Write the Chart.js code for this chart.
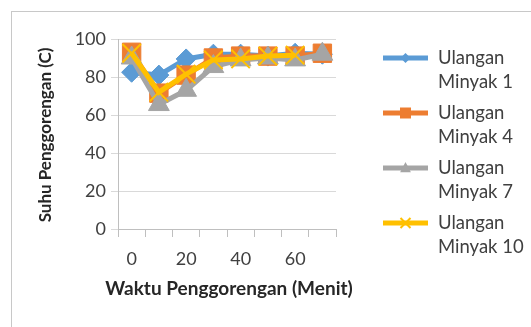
<!DOCTYPE html>
<html>
<head>
<meta charset="utf-8">
<script src="https://cdn.jsdelivr.net/npm/chart.js@4/dist/chart.umd.min.js"></script>
<style>
  html, body { margin: 0; padding: 0; background: #fff; }
  #wrap { width: 531px; height: 327px; position: relative; }
</style>
</head>
<body>
<div id="wrap"><canvas id="c" width="531" height="327"></canvas></div>
<script>
// Frying time (minutes) and oil temperature per repetition
const waktu = ['0', '10', '20', '30', '40', '50', '60', '70'];
const minyak1 = [82.5, 81, 89.5, 92, 92, 91, 92.5, 92];
const minyak4 = [93, 71.5, 81, 90, 91, 91, 91, 92.5];
const minyak7 = [90, 65.5, 73, 85.5, 89, 90, 89, 92];
const minyak10 = [92.5, 72, 81.5, 89, 89.5, 91, 91.5, null];
const seriesNames = [['Ulangan', 'Minyak 1'], ['Ulangan', 'Minyak 4'], ['Ulangan', 'Minyak 7'], ['Ulangan', 'Minyak 10']];
const yTicks = [0, 20, 40, 60, 80, 100];
const xLabelEvery = 20;
const xTitle = 'Waktu Penggorengan (Menit)';
const yTitle = 'Suhu Penggorengan (C)';

const FONT = 'Lato, "Liberation Sans", sans-serif';
const colors = ['#5B9BD5', '#ED7D31', '#A5A5A5', '#FFC000'];
const styles = ['rectRot', 'rect', 'triangle', 'crossRot'];
const radii = [10, 13, 12, 13];

function makeSet(i, data) {
  return {
    label: seriesNames[i].join(' '),
    data: data,
    borderColor: colors[i],
    backgroundColor: colors[i],
    borderWidth: 5,
    pointStyle: styles[i],
    pointRadius: radii[i],
    pointBackgroundColor: colors[i],
    pointBorderColor: colors[i],
    pointBorderWidth: i === 3 ? 2 : 1,
    tension: 0,
    order: 4 - i,
    spanGaps: false
  };
}

// Outer frame of the chart
const framePlugin = {
  id: 'frame',
  beforeDraw(chart) {
    const ctx = chart.ctx;
    ctx.save();
    ctx.fillStyle = '#ffffff';
    ctx.fillRect(0, 0, chart.width, chart.height);
    ctx.strokeStyle = '#c8c8c8';
    ctx.lineWidth = 1;
    ctx.strokeRect(11.5, 11.5, chart.width + 20, chart.height + 20);
    ctx.restore();
  }
};

// Axis titles, drawn at their natural width (not squeezed to the plot width)
const axisTitlePlugin = {
  id: 'axisTitles',
  afterDraw(chart) {
    const ctx = chart.ctx;
    const a = chart.chartArea;
    ctx.save();
    ctx.fillStyle = '#262626';
    ctx.textAlign = 'center';
    ctx.textBaseline = 'middle';
    ctx.font = 'bold 19px ' + FONT;
    ctx.fillText(xTitle, (a.left + a.right) / 2 + 2, a.bottom + 60);
    ctx.translate(46, (a.top + a.bottom) / 2 + 1);
    ctx.rotate(-Math.PI / 2);
    ctx.font = 'bold 17px ' + FONT;
    ctx.fillText(yTitle, 0, 0);
    ctx.restore();
  }
};

function drawMarker(ctx, style, x, y, r, color) {
  ctx.save();
  ctx.fillStyle = color;
  ctx.strokeStyle = color;
  ctx.beginPath();
  if (style === 'rectRot') {
    ctx.moveTo(x, y - r); ctx.lineTo(x + r, y); ctx.lineTo(x, y + r); ctx.lineTo(x - r, y); ctx.closePath(); ctx.fill();
  } else if (style === 'rect') {
    ctx.rect(x - r, y - r, 2 * r, 2 * r); ctx.fill();
  } else if (style === 'triangle') {
    ctx.moveTo(x, y - r); ctx.lineTo(x + r * 0.9, y + r * 0.7); ctx.lineTo(x - r * 0.9, y + r * 0.7); ctx.closePath(); ctx.fill();
  } else {
    ctx.lineWidth = 2;
    ctx.moveTo(x - r, y - r); ctx.lineTo(x + r, y + r);
    ctx.moveTo(x + r, y - r); ctx.lineTo(x - r, y + r); ctx.stroke();
  }
  ctx.restore();
}

// Legend on the right, two-line labels with line + marker swatch
const legendPlugin = {
  id: 'sideLegend',
  afterDraw(chart) {
    const ctx = chart.ctx;
    const x0 = 383, x1 = 428, tx = 438, top = 58, step = 55, lh = 24;
    const mr = [5, 5.5, 6, 5];
    ctx.save();
    chart.data.datasets.forEach((ds, i) => {
      const y = top + step * i;
      ctx.strokeStyle = colors[i];
      ctx.lineWidth = 5;
      ctx.beginPath(); ctx.moveTo(x0, y); ctx.lineTo(x1, y); ctx.stroke();
      drawMarker(ctx, styles[i], (x0 + x1) / 2, y, mr[i], colors[i]);
      ctx.fillStyle = '#404040';
      ctx.font = '18.5px ' + FONT;
      ctx.textBaseline = 'middle';
      ctx.textAlign = 'left';
      seriesNames[i].forEach((t, k) => ctx.fillText(t, tx, y + k * lh));
    });
    ctx.restore();
  }
};

new Chart(document.getElementById('c'), {
  type: 'line',
  data: {
    labels: waktu,
    datasets: [makeSet(0, minyak1), makeSet(1, minyak4), makeSet(2, minyak7), makeSet(3, minyak10)]
  },
  options: {
    responsive: false,
    animation: false,
    devicePixelRatio: 1,
    layout: { padding: { left: 35, right: 195, top: 39, bottom: 28 } },
    plugins: { legend: { display: false }, tooltip: { enabled: false } },
    scales: {
      x: {
        type: 'category',
        offset: true,
        grid: { offset: true, drawOnChartArea: false, drawTicks: true, tickLength: 8, color: '#bfbfbf' },
        border: { color: '#bfbfbf', width: 1 },
        ticks: {
          autoSkip: false, maxRotation: 0, padding: 11,
          color: '#404040', font: { family: FONT, size: 18 },
          callback: function (v, i) { const l = waktu[i]; return Number(l) % xLabelEvery === 0 ? l : ''; }
        },
        title: { display: false },
        afterFit(s) { s.height = 70; }
      },
      y: {
        min: 0, max: 100,
        afterBuildTicks(s) { s.ticks = yTicks.map(v => ({ value: v })); },
        grid: { color: '#d9d9d9', tickLength: 7, drawTicks: true },
        border: { color: '#bfbfbf', width: 1 },
        ticks: { padding: 5, color: '#404040', font: { family: FONT, size: 18 } },
        title: { display: false },
        afterFit(s) { s.width = 83; }
      }
    }
  },
  plugins: [framePlugin, axisTitlePlugin, legendPlugin]
});
</script>
</body>
</html>
